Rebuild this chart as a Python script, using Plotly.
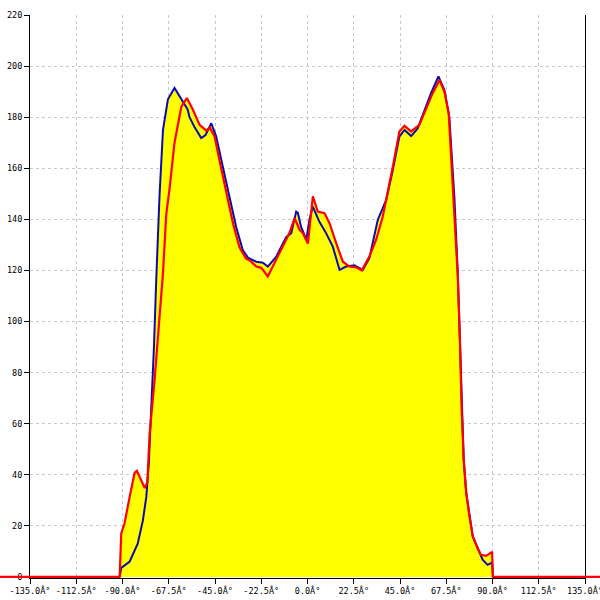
import plotly.graph_objects as go

# ---- data ----
blue_deg = [-91.4, -90.6, -86.5, -82.6, -80.1, -78.4, -77.2, -76.0, -74.7, -73.6, -72.0, -70.3,
            -67.9, -64.7, -61.4, -58.3, -57.4, -54.9, -51.7, -49.6, -46.8, -44.4, -41.2, -37.9,
            -34.7, -31.5, -29.0, -24.9, -21.7, -19.3, -15.2, -10.4, -7.9, -5.5, -4.7, -3.1,
            -0.6, 1.0, 2.6, 5.8, 9.1, 12.3, 15.6, 18.8, 22.8, 26.9, 30.1, 34.2, 38.3, 41.5,
            44.7, 47.2, 50.4, 53.6, 56.9, 60.1, 63.7, 66.6, 69.0, 70.6, 71.5, 73.1, 74.2, 75.0,
            76.0, 77.2, 78.8, 80.4, 82.8, 85.2, 87.6, 89.8, 90.2]
blue_val = [0, 3.5, 6, 13, 22, 31.4, 44.6, 64, 90, 116, 149, 175,
            187, 191.4, 187, 183, 180, 176, 171.8, 173, 177.6, 172.4, 160.6, 149,
            137, 128, 125, 123.4, 123, 121.5, 125.4, 133, 134.6, 143, 142.5, 137,
            132, 140, 145, 139, 134.5, 129.3, 120.2, 121.5, 122, 120.2, 124.8, 139.8, 147.6, 159.3,
            172.4, 175, 172.6, 175.6, 182.8, 189.4, 196, 190.6, 180, 161, 148, 119, 91.5, 65.4,
            45.8, 33, 23.6, 15.8, 11.2, 6.7, 4.7, 5.6, 0]

red_deg = [-135.0, -91.4, -90.6, -89.0, -86.5, -84.1, -83.0, -80.8, -79.2, -77.9, -76.8, -74.4,
           -72.0, -70.3, -68.7, -67.1, -64.7, -63.2, -61.4, -58.7, -55.8, -52.5, -49.2, -47.6,
           -45.2, -42.8, -39.5, -36.3, -33.1, -29.8, -28.2, -24.9, -22.5, -19.3, -16.0, -12.0,
           -8.8, -6.3, -3.9, -2.3, 0.2, 2.6, 5.0, 8.3, 10.7, 14.0, 17.2, 20.4, 23.7, 26.4,
           30.1, 33.4, 36.6, 41.5, 44.7, 47.2, 50.4, 54.4, 57.7, 60.9, 64.2, 66.6, 68.7, 69.9,
           71.5, 73.1, 74.2, 75.0, 76.0, 77.2, 78.8, 80.4, 82.8, 84.4, 86.9, 89.8, 90.2, 135.0]
red_val = [0, 0, 17, 21, 31.4, 40.7, 41.5, 37.3, 34.8, 37, 56, 77,
           103, 119, 142, 152, 170, 176, 184, 187.5, 183, 177, 174.7, 176,
           172.4, 163, 150, 138.6, 129, 124.5, 124, 121.5, 121, 117.6, 123, 129.3,
           134.6, 140.5, 136, 134.6, 130.5, 149, 143, 142.4, 138.5, 130.6, 123.4, 121.5, 121.2, 120,
           125.4, 132, 141, 160.6, 174.4, 176.6, 174.4, 177, 183.5, 189.4, 194.5, 190, 181.5, 165,
           145, 118, 91.5, 65.4, 45.8, 33, 23.6, 15.8, 11.2, 8.6, 8.2, 9.8, 0, 0]

x_tick_vals = [-135, -112.5, -90, -67.5, -45, -22.5, 0, 22.5, 45, 67.5, 90, 112.5, 135]
x_tick_text = ["-135.0Â°", "-112.5Â°", "-90.0Â°", "-67.5Â°", "-45.0Â°", "-22.5Â°", "0.0Â°",
               "22.5Â°", "45.0Â°", "67.5Â°", "90.0Â°", "112.5Â°", "135.0Â°"]
y_tick_vals = [0, 20, 40, 60, 80, 100, 120, 140, 160, 180, 200, 220]

YELLOW = "#ffff00"
RED = "#ff0000"
BLUE = "#0a0ab4"

fig = go.Figure()
fig.add_trace(go.Scatter(x=blue_deg, y=blue_val, mode="lines", fill="tozeroy",
                         fillcolor=YELLOW, line=dict(width=0, color=YELLOW), hoverinfo="skip"))
fig.add_trace(go.Scatter(x=red_deg, y=red_val, mode="lines", fill="tozeroy",
                         fillcolor=YELLOW, line=dict(width=0, color=YELLOW), hoverinfo="skip"))
fig.add_trace(go.Scatter(x=blue_deg, y=blue_val, mode="lines", line=dict(color=BLUE, width=2)))
fig.add_trace(go.Scatter(x=red_deg, y=red_val, mode="lines", line=dict(color=RED, width=2.2)))

L, R, T, B = 30, 15, 15, 22
W = 600 - L - R
# red baseline continues beyond the plot area
fig.add_shape(type="line", xref="paper", yref="y", x0=-L / W, x1=0, y0=0, y1=0,
              line=dict(color=RED, width=2.2), layer="above")
fig.add_shape(type="line", xref="paper", yref="y", x0=1, x1=1 + R / W, y0=0, y1=0,
              line=dict(color=RED, width=2.2), layer="above")

font = dict(family="DejaVu Sans Mono", size=8.5, color="black")
fig.update_layout(
    width=600, height=600,
    margin=dict(l=L, r=R, t=T, b=B),
    paper_bgcolor="white", plot_bgcolor="white",
    showlegend=False,
    xaxis=dict(range=[-135, 135], tickmode="array", tickvals=x_tick_vals, ticktext=x_tick_text,
               showgrid=True, gridcolor="#c8c8c8", griddash="3px,3px", gridwidth=1,
               showline=True, linecolor="black", linewidth=1, ticks="outside", ticklen=5,
               tickcolor="black", tickfont=font, zeroline=False, layer="below traces",
               automargin=False, ticklabeloverflow="allow"),
    yaxis=dict(range=[-0.45, 220], tickmode="array", tickvals=y_tick_vals,
               showgrid=True, gridcolor="#c8c8c8", griddash="3px,3px", gridwidth=1,
               showline=True, mirror=True, linecolor="black", linewidth=1, ticks="outside",
               ticklen=5, tickcolor="black", tickfont=font, zeroline=False, automargin=False,
               ticklabeloverflow="allow"),
)

fig.write_html("out.html", config={"displayModeBar": False},
               post_script="document.body.style.margin='0';document.body.style.overflow='hidden';")
